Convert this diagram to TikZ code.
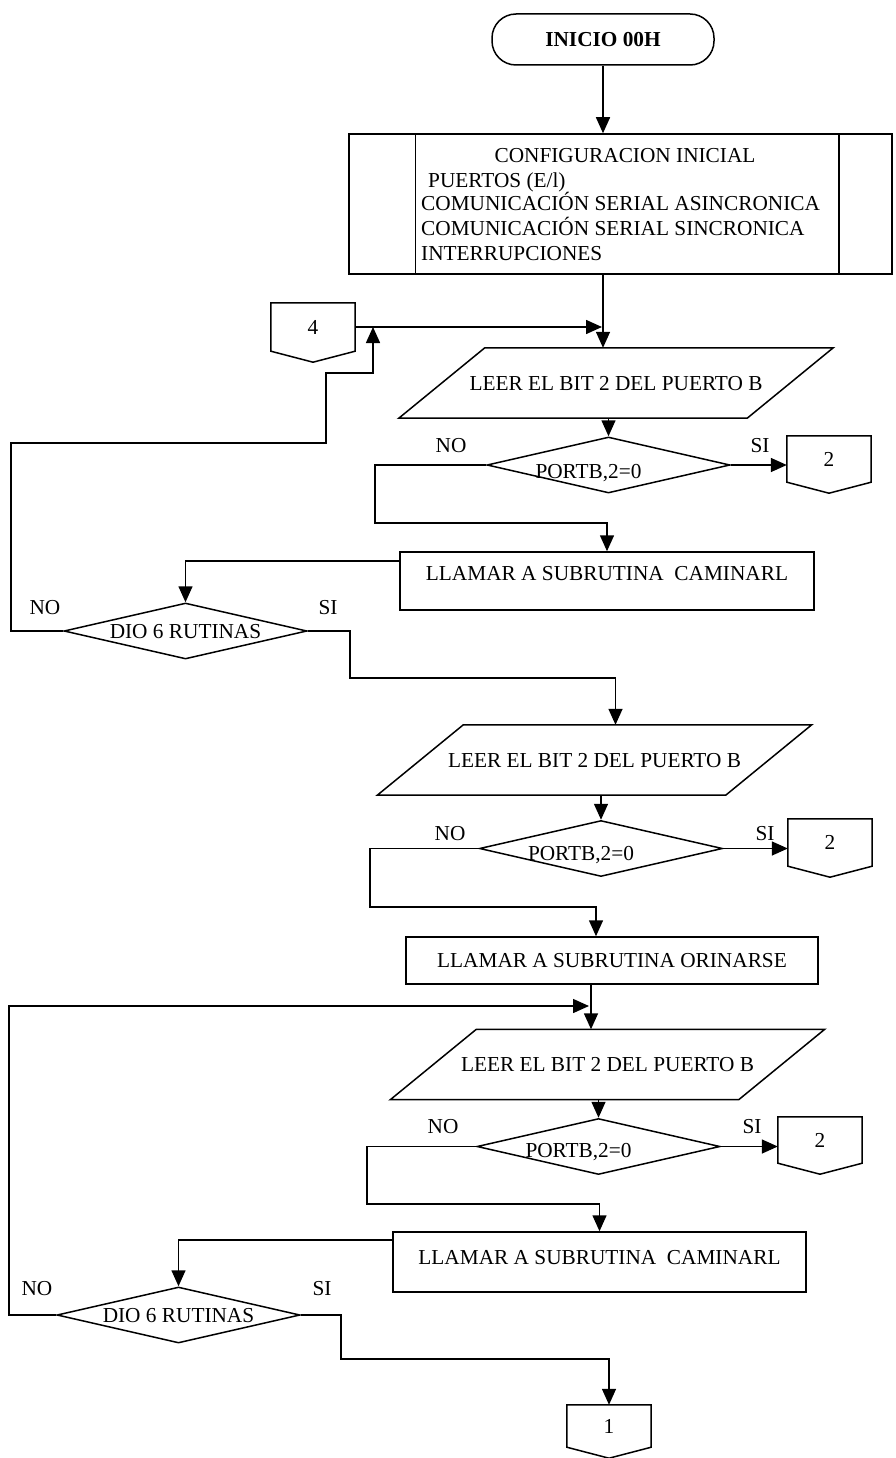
\documentclass[tikz,border=0pt]{standalone}
\usepackage{fontspec}
\setmainfont{Liberation Serif}
\usetikzlibrary{arrows.meta,shapes.geometric,calc}
\tikzset{
  ln/.style={line width=1.5pt},
  arr/.style={ln, -{Triangle[length=16pt,width=14pt]}},
  txt/.style={font=\fontsize{21.3}{25}\selectfont, text height=14pt, text depth=0pt, inner sep=0pt},
  term/.style={draw, ln, txt, rounded corners=24pt, minimum width=222pt, minimum height=51pt},
  procbox/.style={draw, ln, txt, rectangle},
  dec/.style={draw, ln, txt, diamond, aspect=4.3, minimum width=243pt, minimum height=56pt},
}
\newcommand\parbx[3]{%
  \node[txt, minimum width=434pt, minimum height=70pt] (#1) at (#2) {#3};
  \draw[ln] ([xshift=86pt]#1.north west) -- (#1.north east) -- ([xshift=-86pt]#1.south east) -- (#1.south west) -- cycle;}
\newcommand\offpg[4]{%
  \node[txt, minimum width=84pt, minimum height=#4] (#1) at (#2) {#3};
  \draw[ln] (#1.north west) -- (#1.north east) -- (#1.south east) -- ([yshift=-11pt]#1.south) -- (#1.south west) -- cycle;}
\begin{document}
\begin{tikzpicture}[x=1pt,y=-1pt]
\fill[white] (0,0) rectangle (895,1458);
\useasboundingbox (0,0) rectangle (895,1458);

% start
\node[term] (term) at (603,39.5) {\textbf{INICIO 00H}};

% configuration box
\node[draw, ln, minimum width=543pt, minimum height=140pt, inner sep=0pt] (cfg) at (620.5,204) {};
\draw[ln] ([xshift=67pt]cfg.north west) -- ([xshift=67pt]cfg.south west);
\draw[ln] ([xshift=-54pt]cfg.north east) -- ([xshift=-54pt]cfg.south east);
\node[txt] (cfg0) at (625,156) {CONFIGURACION INICIAL};
\node[txt,anchor=west] (cfg1) at (428,181) {PUERTOS (E/l)};
\node[txt,anchor=west] (cfg2) at (421,204) {COMUNICACIÓN SERIAL ASINCRONICA};
\node[txt,anchor=west] (cfg3) at (421,228) {COMUNICACIÓN SERIAL SINCRONICA};
\node[txt,anchor=west] (cfg4) at (421,253) {INTERRUPCIONES};

% connector 4
\offpg{c4}{313,327}{4}{48pt}

% section 1
\parbx{p1}{616,383}{LEER EL BIT 2 DEL PUERTO B}
\node[dec, label={[txt,xshift=-20pt,yshift=-6pt]center:{PORTB,2=0}}] (dia1) at (608.5,465) {};
\offpg{c2a}{829,459}{2}{46pt}
\node[procbox, minimum width=414pt, minimum height=58pt, label={[txt,yshift=8pt]center:{LLAMAR A SUBRUTINA\ \ CAMINARL}}] (b1) at (607,581) {};
\node[dec] (dio1) at (185.5,631) {DIO 6 RUTINAS};

% section 2
\parbx{p2}{594.5,760}{LEER EL BIT 2 DEL PUERTO B}
\node[dec, label={[txt,xshift=-20pt,yshift=-5pt]center:{PORTB,2=0}}] (dia2) at (601,848.5) {};
\offpg{c2b}{830,842.5}{2}{47pt}
\node[procbox, minimum width=412pt, minimum height=47pt] (orin) at (612,960.5) {LLAMAR A SUBRUTINA ORINARSE};

% section 3
\parbx{p3}{607.5,1064.5}{LEER EL BIT 2 DEL PUERTO B}
\node[dec, label={[txt,xshift=-20pt,yshift=-4pt]center:{PORTB,2=0}}] (dia3) at (598.5,1146.5) {};
\offpg{c2c}{820,1140}{2}{46pt}
\node[procbox, minimum width=413pt, minimum height=60pt, label={[txt,yshift=5pt]center:{LLAMAR A SUBRUTINA\ \ CAMINARL}}] (b2) at (599.5,1262) {};
\node[dec] (dio2) at (178.5,1315) {DIO 6 RUTINAS};
\offpg{c1}{609,1426}{1}{42pt}

% labels
\node[txt] (no1) at (451,445) {NO};
\node[txt] (si1) at (760,445) {SI};
\node[txt] (no4) at (45,607) {NO};
\node[txt] (si4) at (328,607) {SI};
\node[txt] (no2) at (450,833) {NO};
\node[txt] (si2) at (765,833) {SI};
\node[txt] (no3) at (443,1126) {NO};
\node[txt] (si3) at (752,1126) {SI};
\node[txt] (no5) at (37,1288) {NO};
\node[txt] (si5) at (322,1288) {SI};

% connectors
\coordinate (j1) at (602,327);
\coordinate (j4) at (373,327);
\coordinate (j2) at (589,1006);
\draw[arr] (term.south) -- (term.south |- cfg.north);
\draw[arr] (term.south |- cfg.south) -- (term.south |- p1.north);
\draw[arr] (c4.east) -- (j1);
\draw[arr] (dio1.west) -- (11,631) -- (11,443) -- (326,443) -- (326,373) -- (373,373) -- (j4);
\draw[arr] (dia1.north |- p1.south) -- (dia1.north);
\draw[arr] (dia1.east) -- (dia1.east -| c2a.west);
\draw[arr] (dia1.west) -- (375,465) -- (375,523) -| (b1.north);
\draw[arr] ([yshift=20pt]b1.west) -| (dio1.north);
\draw[arr] (dio1.east) -| (350,678) -| ($(p2.north)+(21,0)$);
\draw[arr] (dia2.north |- p2.south) -- (dia2.north);
\draw[arr] (dia2.east) -- (dia2.east -| c2b.west);
\draw[arr] (dia2.west) -- (370,848.5) -- (370,907) -| ($(orin.north)+(-16,0)$);
\draw[arr] ($(orin.south)+(-21,0)$) -- ($(p3.north)+(-16.5,0)$);
\draw[arr] (dio2.west) -- (9,1315) -- (9,1006) -- (j2);
\draw[arr] (dia3.north |- p3.south) -- (dia3.north);
\draw[arr] (dia3.east) -- (dia3.east -| c2c.west);
\draw[arr] (dia3.west) -- (367,1146.5) -- (367,1204) -| (b2.north);
\draw[arr] ([yshift=22pt]b2.west) -| (dio2.north);
\draw[arr] (dio2.east) -| (341,1359) -| (c1.north);
\end{tikzpicture}
\end{document}
